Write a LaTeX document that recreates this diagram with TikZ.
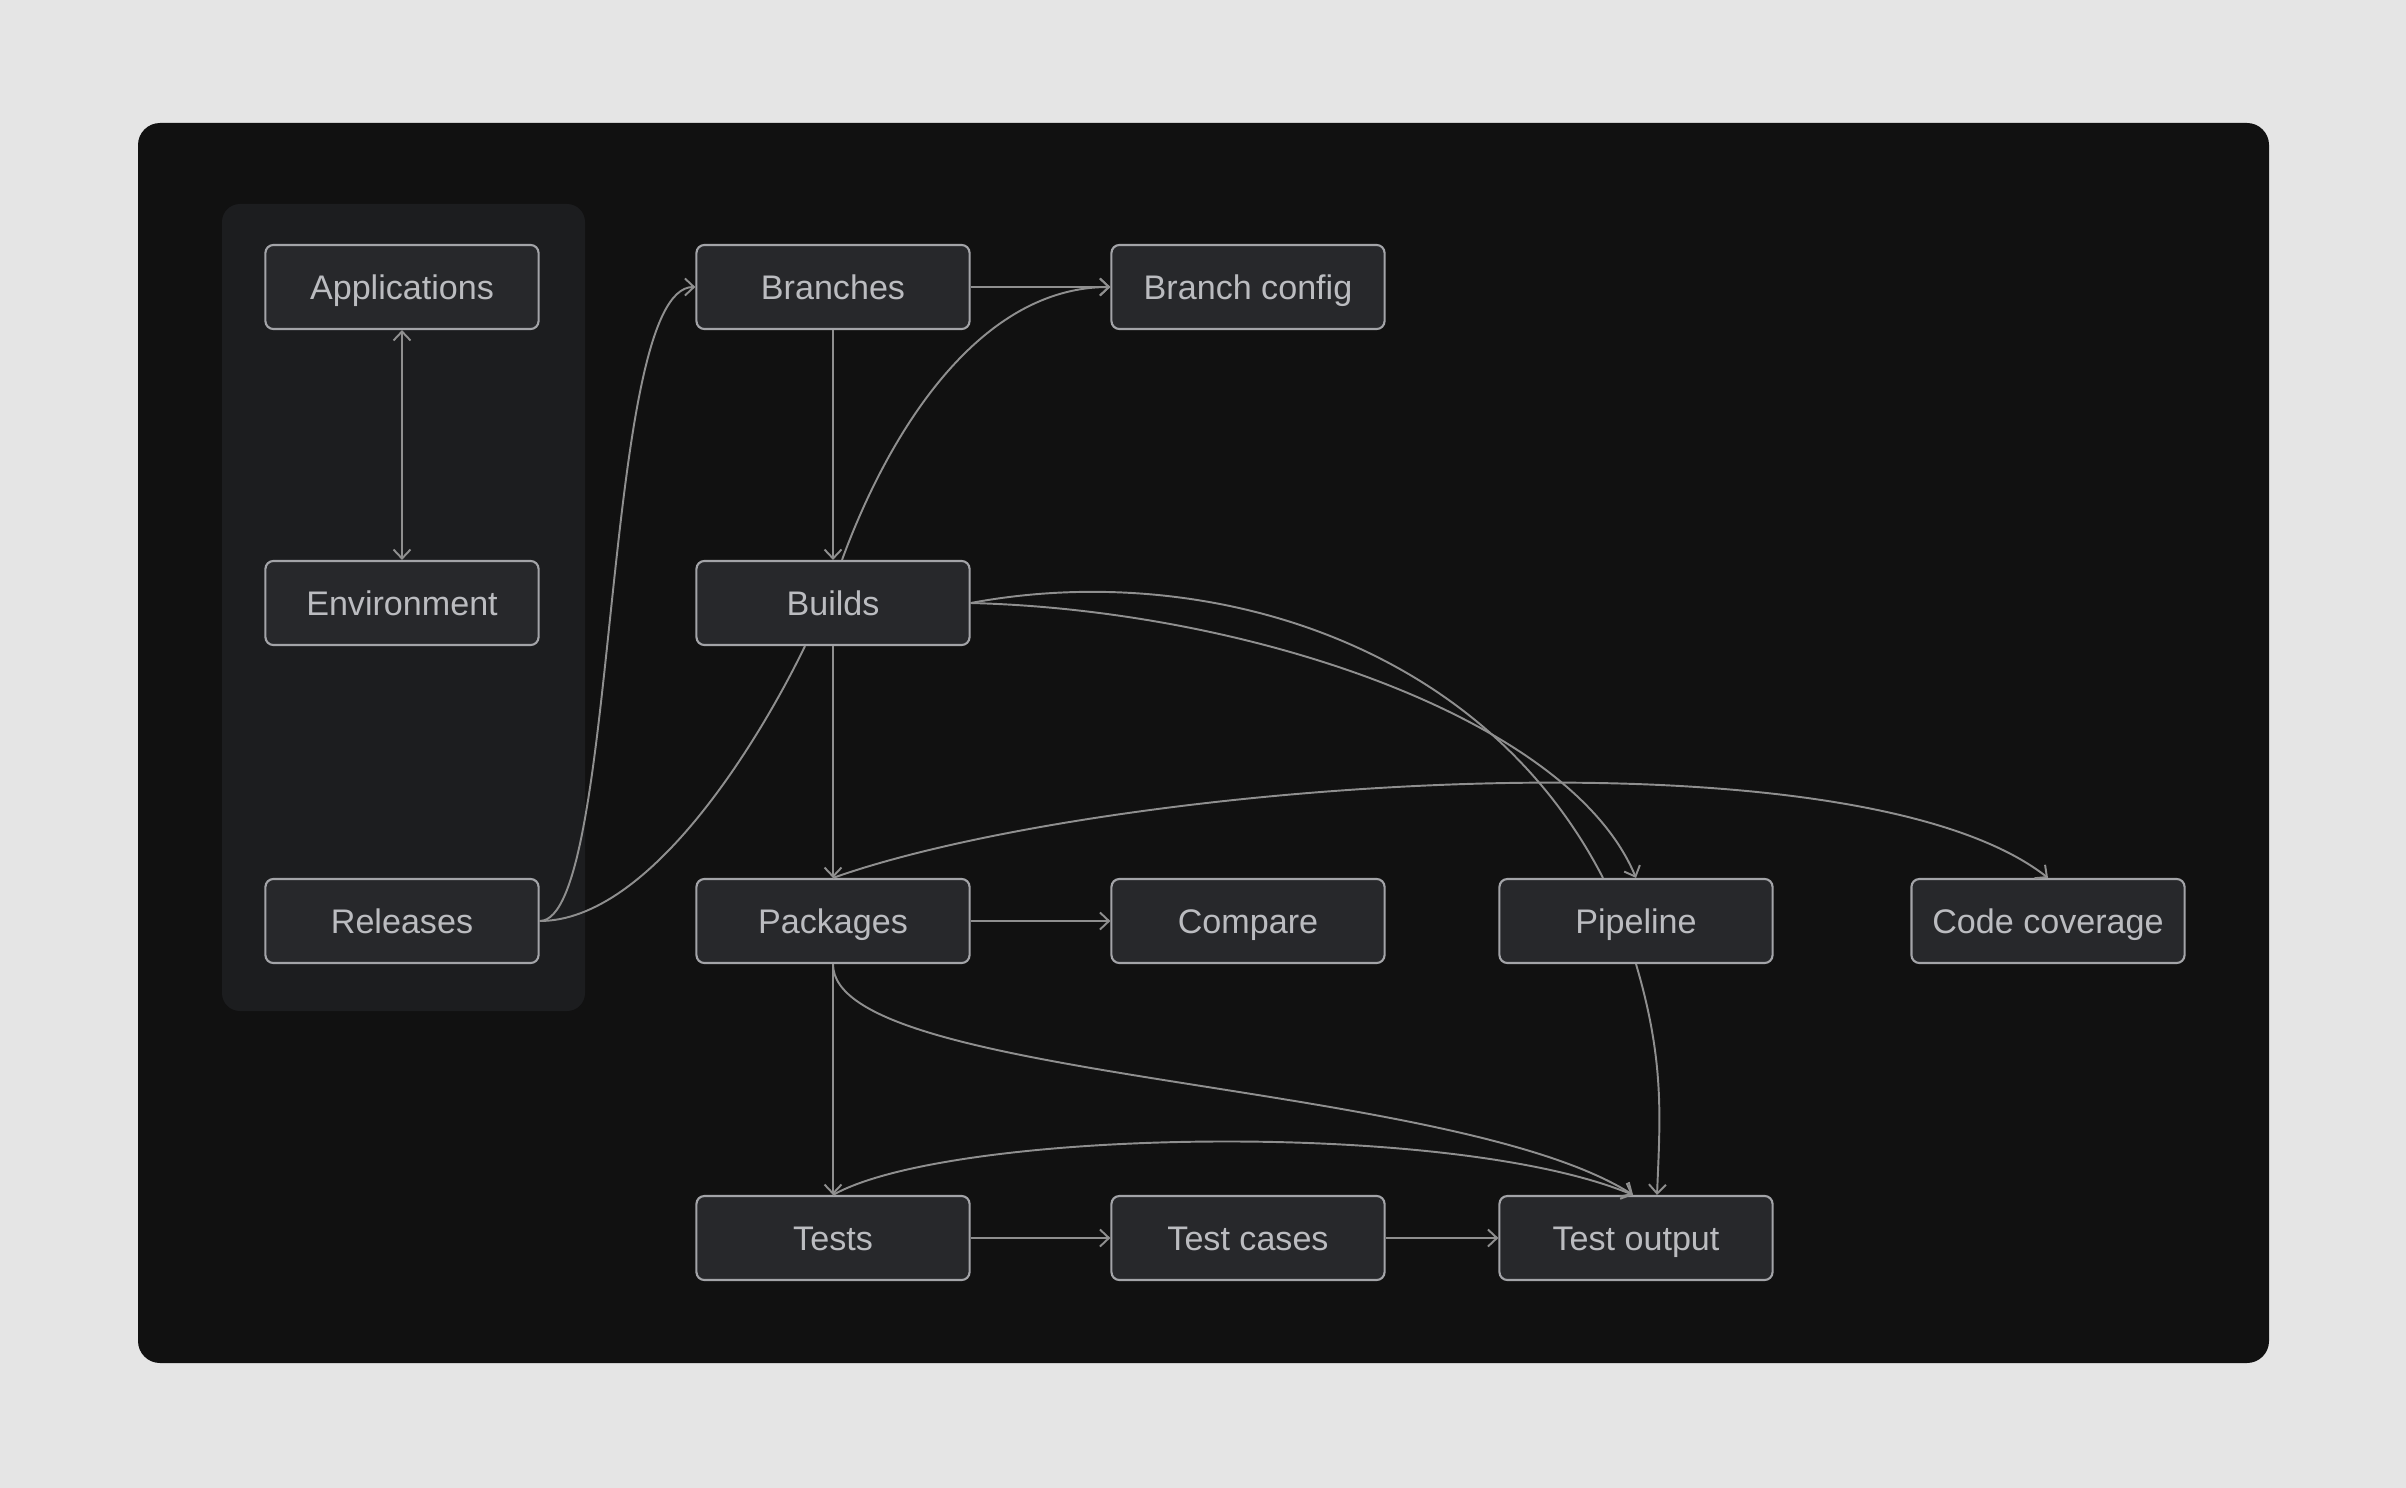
\documentclass[tikz,border=0pt]{standalone}
\usepackage{fontspec}
\setmainfont{Liberation Sans}
\usetikzlibrary{arrows.meta}
\definecolor{pagebg}{HTML}{E5E5E5}
\definecolor{panelbg}{HTML}{111111}
\definecolor{groupbg}{HTML}{1C1D1F}
\definecolor{boxbg}{HTML}{27282B}
\definecolor{boxline}{HTML}{A3A4A8}
\definecolor{boxtext}{HTML}{BBBCC0}
\definecolor{edgeline}{HTML}{8F8F8F}

\begin{document}
\begin{tikzpicture}[x=0.01cm,y=-0.01cm,
    box/.style={draw=boxline,fill=boxbg,line width=0.6pt,rounded corners=0.8mm,
      minimum width=2.73cm,minimum height=0.84cm,inner sep=0pt,text=boxtext,
      text height=6.9pt,text depth=0pt,
      font=\fontsize{9.7}{12}\selectfont},
    link/.style={draw=edgeline,line width=0.55pt},
    >={Straight Barb[length=0.9mm,width=1.7mm]}]
  % page, panel and group
  \fill[pagebg] (0,0) rectangle (2406,1488);
  \useasboundingbox (0,0) rectangle (2406,1488);
  \fill[panelbg,rounded corners=2.2mm] (138,123) rectangle (2269,1363);
  \fill[groupbg,rounded corners=1.8mm] (222,204) rectangle (585,1011);
  % nodes
  \node[box] (app)  at (402,287)  {Applications};
  \node[box] (env)  at (402,603)  {Environment};
  \node[box] (rel)  at (402,921)  {Releases};
  \node[box] (br)   at (833,287)  {Branches};
  \node[box] (brc)  at (1248,287) {Branch config};
  \node[box] (bld)  at (833,603)  {Builds};
  \node[box] (pkg)  at (833,921)  {Packages};
  \node[box] (cmp)  at (1248,921) {Compare};
  \node[box] (pipe) at (1636,921) {Pipeline};
  \node[box] (cov)  at (2048,921) {Code coverage};
  \node[box] (tst)  at (833,1238) {Tests};
  \node[box] (tc)   at (1248,1238) {Test cases};
  \node[box] (out)  at (1636,1238) {Test output};
  % straight links
  \draw[link,<->] (app) -- (env);
  \draw[link,->] (br) -- (brc);
  \draw[link,->] (br) -- (bld);
  \draw[link,->] (bld) -- (pkg);
  \draw[link,->] (pkg) -- (cmp);
  \draw[link,->] (pkg) -- (tst);
  \draw[link,->] (tst) -- (tc);
  \draw[link,->] (tc) -- (out);
  % curved links
  \draw[link,->] (rel.east) .. controls +(80,0) and +(-95,0) .. (br.west);
  \draw[link] (rel.east) .. controls +(111,0) and +(-45,93) .. ([xshift=-2.8mm]bld.south);
  \draw[link,->] ([xshift=0.9mm]bld.north) .. controls +(48,-131) and +(-130,0) .. (brc.west);
  \draw[link,->] (bld.east) .. controls +(280,7) and +(-66,-159) .. (pipe.north);
  \draw[link] (bld.east) .. controls +(230,-43) and +(-123,-239) .. ([xshift=-3.3mm]pipe.north);
  \draw[link,->] (pkg.north) .. controls +(267,-95) and +(-198,-155) .. (cov.north);
  \draw[link,->] (pkg.south) .. controls +(0,118) and +(-183,-116) .. ([xshift=-0.3mm]out.north);
  \draw[link,->] (tst.north) .. controls +(117,-66) and +(-183,-76) .. ([xshift=-0.3mm]out.north);
  \draw[link,->] (pipe.south) .. controls +(29,98) and +(3,-76) .. ([xshift=2.1mm]out.north);
\end{tikzpicture}
\end{document}
